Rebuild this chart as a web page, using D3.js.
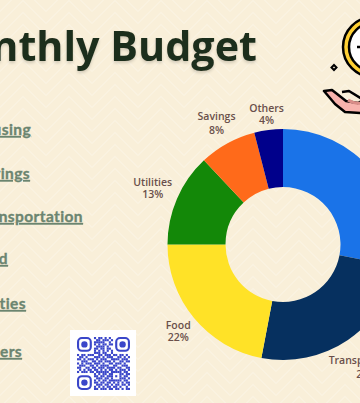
<!DOCTYPE html>
<html>
<head>
<meta charset="utf-8">
<script src="https://cdn.jsdelivr.net/npm/d3@7"></script>
<style>
  html, body { margin: 0; padding: 0; background: #f9efd9; overflow: hidden; }
  svg { display: block; }
</style>
</head>
<body>
<div id="chart"></div>
<script>
// chart data
const categories = ["Housing", "Transportation", "Food", "Utilities", "Savings", "Others"];
const shares = [28, 25, 22, 13, 8, 4];
const sliceColors = ["#1a73e8", "#06305f", "#ffe227", "#138808", "#ff6a1a", "#00008b"];
const listLabels = ["Housing", "Savings", "Transportation", "Food", "Utilities", "Others"];
const titleText = "Monthly Budget";

// the qr code, one string per row
const qrRows = [
  "1111111010110101001111111",
  "1000001001101110101000001",
  "1011101011111001001011101",
  "1011101010101101101011101",
  "1011101001111010001011101",
  "1000001011011011001000001",
  "1111111010101010101111111",
  "0000000011101100100000000",
  "1011011100110111011011010",
  "0110100011101011100110101",
  "1101011101011100111101110",
  "0011100110110111010011011",
  "1010111011101001101110100",
  "0111001101011110011001110",
  "1100110110111011110110011",
  "0101011011010101101011101",
  "1011101101111110111110110",
  "0000000010101101100011011",
  "1111111011011011101010110",
  "1000001001110110100011101",
  "1011101010101101111110110",
  "1011101011011011010101011",
  "1011101001110110101101101",
  "1000001010101011011010010",
  "1111111011011101101101011"
];

const width = 360, height = 403;
const cx = 283, cy = 244.5, outerR = 115.5, innerR = 57.5;

const svg = d3.select("#chart").append("svg")
    .attr("width", width)
    .attr("height", height);

// faint zigzag behind everything
const defs = svg.append("defs");
const zig = defs.append("pattern")
    .attr("id", "zigzag")
    .attr("width", 46).attr("height", 24)
    .attr("patternUnits", "userSpaceOnUse");
zig.append("rect").attr("width", 46).attr("height", 24).attr("fill", "#f9efd9");
[0, 12].forEach(function(o) {
  zig.append("path")
      .attr("d", "M0," + (o + 11.5) + "L23," + (o - 11.5) + "L46," + (o + 11.5))
      .attr("fill", "none")
      .attr("stroke", "#fbf3e2")
      .attr("stroke-width", 1.3);
  zig.append("path")
      .attr("d", "M0," + (o + 35.5) + "L23," + (o + 12.5) + "L46," + (o + 35.5))
      .attr("fill", "none")
      .attr("stroke", "#fbf3e2")
      .attr("stroke-width", 1.3);
});
svg.append("rect").attr("width", width).attr("height", height).attr("fill", "url(#zigzag)");

const blur = defs.append("filter").attr("id", "soft")
    .attr("x", "-10%").attr("y", "-20%").attr("width", "120%").attr("height", "150%");
blur.append("feDropShadow")
    .attr("dx", 0).attr("dy", 2).attr("stdDeviation", 1.6)
    .attr("flood-color", "#000").attr("flood-opacity", 0.16);

// title, runs off the left edge
svg.append("text")
    .attr("x", 257)
    .attr("y", 61)
    .attr("text-anchor", "end")
    .attr("font-family", "'Open Sans'")
    .attr("font-weight", 700)
    .attr("font-size", 41.3)
    .attr("fill", "#1f2d1b")
    .attr("filter", "url(#soft)")
    .text(titleText);

// left hand list, not evenly spaced in the picture
const listBase = {Housing: 135, Savings: 179, Transportation: 222, Food: 264, Utilities: 309, Others: 357};
const listEnd = {Housing: 31, Savings: 30, Transportation: 83, Food: 8, Utilities: 26, Others: 22};
svg.selectAll(".list")
  .data(listLabels)
  .enter().append("text")
    .attr("class", "list")
    .attr("x", function(d) { return listEnd[d]; })
    .attr("y", function(d) { return listBase[d]; })
    .attr("text-anchor", "end")
    .attr("font-family", "Lato")
    .attr("font-weight", 700)
    .attr("font-size", 15.5)
    .attr("letter-spacing", 0.4)
    .attr("fill", "#6c8570")
    .attr("stroke", "#6c8570")
    .attr("stroke-width", 0.35)
    .attr("text-decoration", "underline")
    .text(function(d) { return d; });

// donut
const pie = d3.pie().sort(null).value(function(d) { return d.share; });
const arc = d3.arc().innerRadius(innerR).outerRadius(outerR);
const slices = pie(categories.map(function(c, i) { return {name: c, share: shares[i], color: sliceColors[i]}; }));

const donut = svg.append("g").attr("transform", "translate(" + cx + "," + cy + ")");
donut.selectAll("path")
  .data(slices)
  .enter().append("path")
    .attr("d", arc)
    .attr("fill", function(d) { return d.data.color; });

// how far out each label sits, and line gap
const labelR = {Transportation: 149, Food: 136, Utilities: 142, Savings: 138, Others: 131};
const lineGap = {Transportation: 14, Food: 12, Utilities: 12, Savings: 14, Others: 12};

const labels = donut.selectAll(".lab")
  .data(slices.filter(function(d) { return labelR[d.data.name]; }))
  .enter().append("text")
    .attr("class", "lab")
    .attr("text-anchor", "middle")
    .attr("font-family", "'Open Sans'")
    .attr("font-weight", 600)
    .attr("font-size", 10.5)
    .attr("fill", "#6a4f4b")
    .attr("transform", function(d) {
      const r = labelR[d.data.name];
      const p = d3.arc().innerRadius(r).outerRadius(r).centroid(d);
      return "translate(" + p[0] + "," + p[1] + ")";
    });
labels.append("tspan")
    .attr("x", 0)
    .attr("y", function(d) { return -lineGap[d.data.name] / 2 + 3.5; })
    .text(function(d) { return d.data.name; });
labels.append("tspan")
    .attr("x", 0)
    .attr("y", function(d) { return lineGap[d.data.name] / 2 + 3.5; })
    .text(function(d) { return d.data.share + "%"; });

// qr code
const qr = svg.append("g");
qr.append("rect").attr("x", 70).attr("y", 330).attr("width", 66).attr("height", 66).attr("fill", "#fff");
const qrX = d3.scaleBand().domain(d3.range(25)).range([77, 130]);
const qrY = d3.scaleBand().domain(d3.range(25)).range([337, 390]);
function inFinder(r, c) {
  return (r < 7 && c < 7) || (r < 7 && c > 17) || (r > 17 && c < 7);
}
qrRows.forEach(function(row, r) {
  row.split("").forEach(function(v, c) {
    if (v === "1" && !inFinder(r, c)) {
      qr.append("rect")
          .attr("x", qrX(c)).attr("y", qrY(r))
          .attr("width", qrX.bandwidth()).attr("height", qrY.bandwidth())
          .attr("fill", "#3a46c9");
    }
  });
});
[[0, 0], [0, 18], [18, 0]].forEach(function(f) {
  const u = qrX.bandwidth();
  qr.append("rect")
      .attr("x", qrX(f[1]) + u * 0.5).attr("y", qrY(f[0]) + u * 0.5)
      .attr("width", u * 6).attr("height", u * 6).attr("rx", u * 1.8)
      .attr("fill", "none").attr("stroke", "#3a46c9").attr("stroke-width", u);
  qr.append("circle")
      .attr("cx", qrX(f[1]) + u * 3.5).attr("cy", qrY(f[0]) + u * 3.5).attr("r", u * 1.5)
      .attr("fill", "#3a46c9");
});

// coin and hand, top right corner
const deco = svg.append("g");
deco.append("circle").attr("cx", 373).attr("cy", 47).attr("r", 30)
    .attr("fill", "#ffd033").attr("stroke", "#000").attr("stroke-width", 2.5);
deco.append("circle").attr("cx", 373).attr("cy", 47).attr("r", 24)
    .attr("fill", "#fff").attr("stroke", "#000").attr("stroke-width", 2.5);
deco.append("path").attr("d", "M357,47h4").attr("stroke", "#000").attr("stroke-width", 2.5);
deco.append("path")
    .attr("d", "M334,65l2.5,2.5l-2.5,2.5l-2.5,-2.5Z")
    .attr("fill", "none").attr("stroke", "#000").attr("stroke-width", 2);
deco.append("path")
    .attr("d", "M324,91L332,90L346,101L358,103L362,101L362,113L345,112L335,104Z")
    .attr("fill", "#f7b3ad").attr("stroke", "#000").attr("stroke-width", 2.5).attr("stroke-linejoin", "round");
deco.append("path")
    .attr("d", "M342,92L349,91L362,99")
    .attr("fill", "none").attr("stroke", "#000").attr("stroke-width", 2.5).attr("stroke-linejoin", "round");
deco.append("path")
    .attr("d", "M348,100Q354,104 362,103")
    .attr("fill", "none").attr("stroke", "#d98d88").attr("stroke-width", 3);
</script>
</body>
</html>
